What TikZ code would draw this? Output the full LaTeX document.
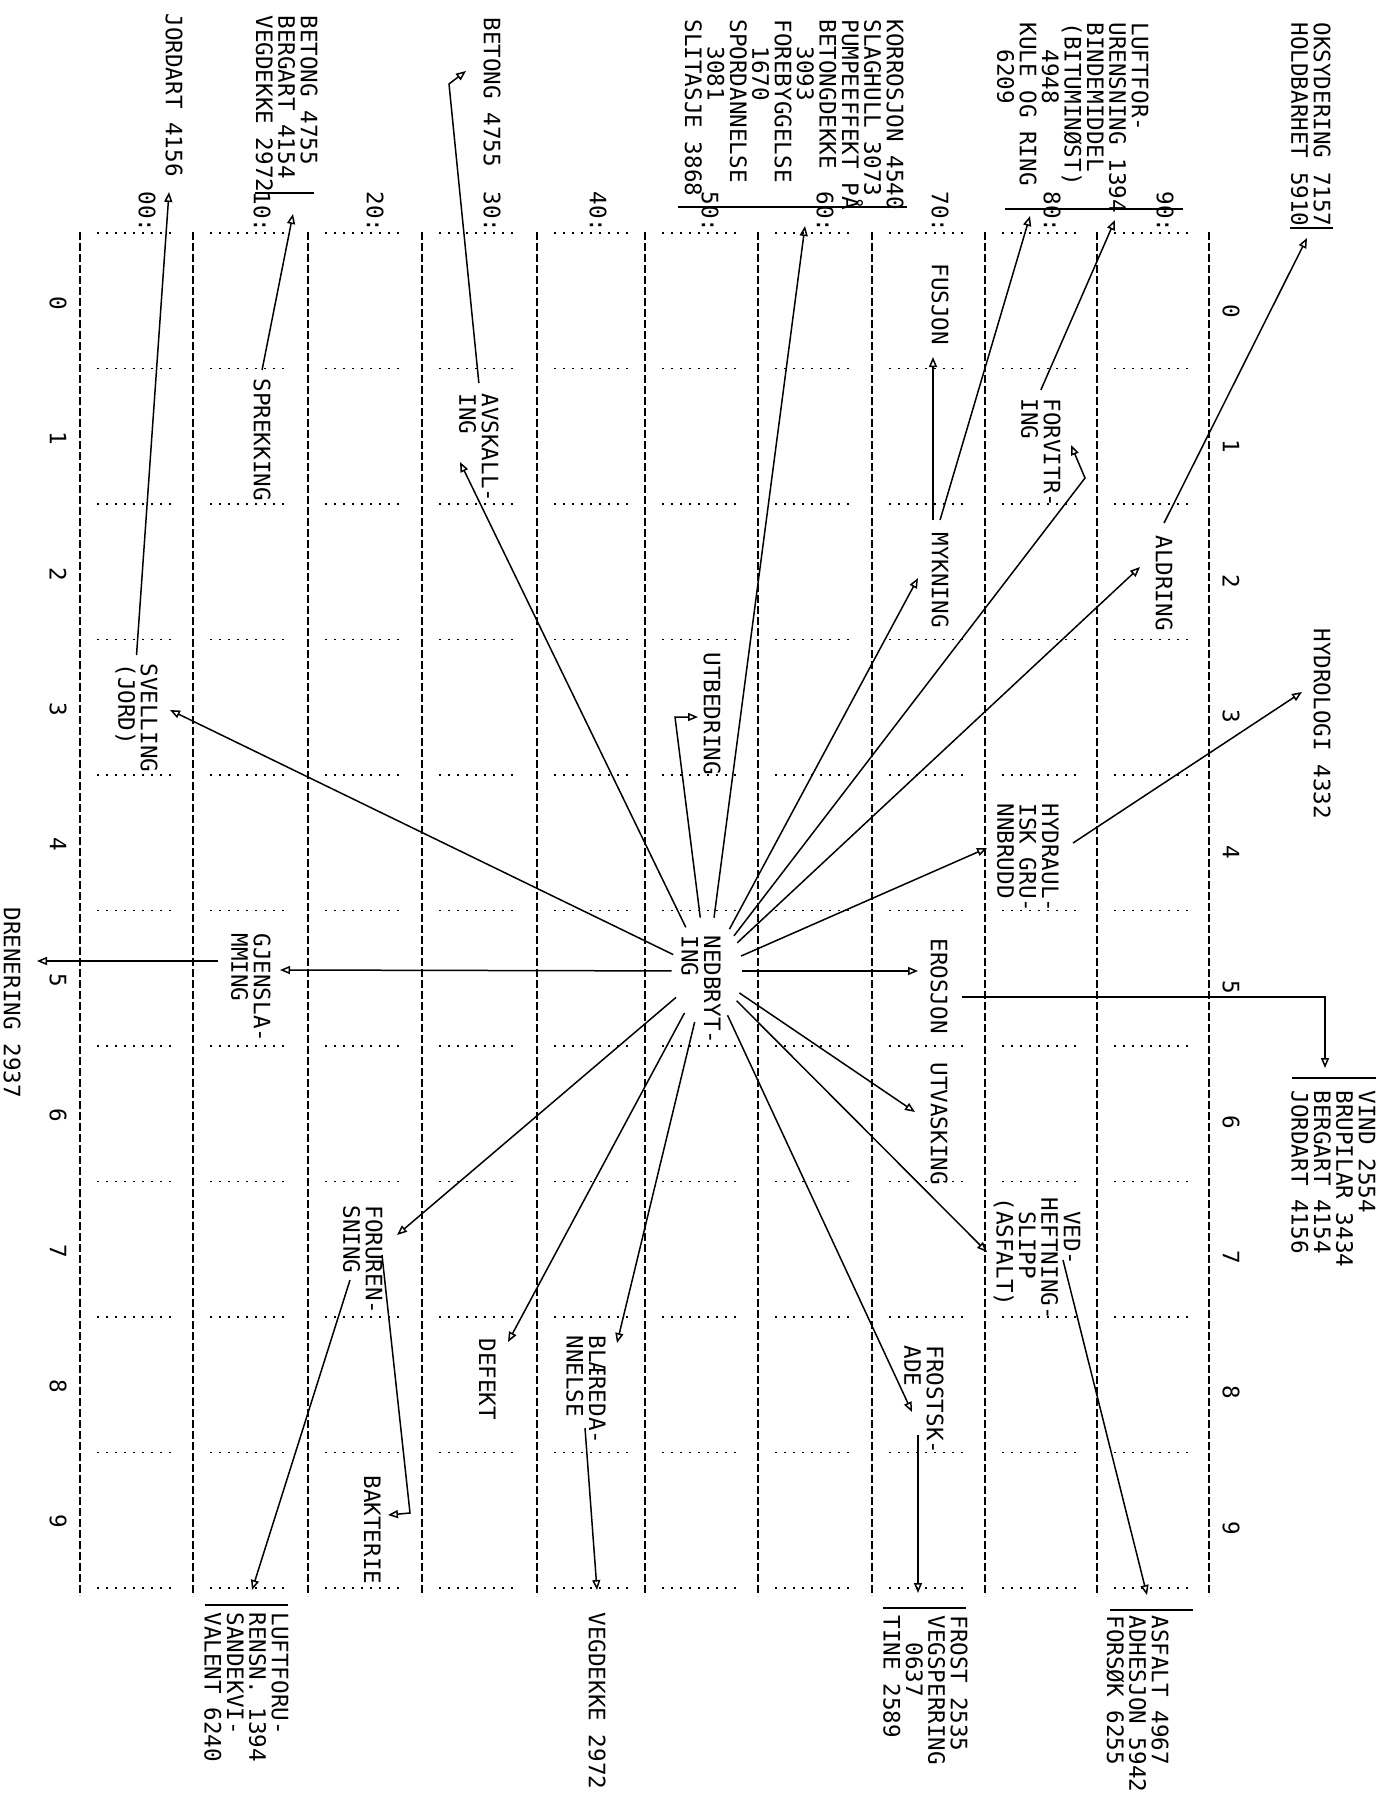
\documentclass[tikz,border=0pt]{standalone}
\usepackage{fontspec}
\usepackage{tikz}
\usetikzlibrary{arrows.meta,shapes.geometric}
\newfontfamily\plotfont{DejaVu Sans Mono}
\newcommand{\plotfnt}{\plotfont\fontsize{11.3}{11.2}\selectfont}

\begin{document}
\begin{tikzpicture}[x=0.5pt, y=-0.5pt,
  every node/.style={font=\plotfnt},
  lbl/.style={rotate=-90, anchor=north west, align=left, inner sep=0pt},
  arr/.style={-{Triangle[open,length=5pt,width=4pt]}, line width=0.75pt},
  brk/.style={line width=0.9pt},
  gridln/.style={line width=0.7pt, dash pattern=on 4pt off 1.5pt},
  dotln/.style={line width=0.9pt, dash pattern=on 0.9pt off 3.6pt},
  hub/.style={ellipse, minimum width=35pt, minimum height=54pt, inner sep=0pt}]
\useasboundingbox (0,0) rectangle (1380,1794);

% grid
\foreach \x in {80,193,308,422,537,645,758,872,985,1097,1209}
  \draw[gridln] (\x,232) -- (\x,1596);
\foreach \k in {0,...,10}
  \foreach \x in {80,193,308,422,537,645,758,872,985,1097}
    \draw[dotln] (\x+17,233+135.5*\k) -- (\x+96,233+135.5*\k);
\foreach \x/\lab in {147/00,262/10,375/20,492/30,598/40,710/50,825/60,940/70,1052/80,1165/90}
  \node[lbl, anchor=east] (row\lab) at (\x,233) {\lab:};
\foreach \c in {0,...,9} {
  \node[rotate=-90, inner sep=0pt] (lc\c) at (58,303+135.4*\c) {\c};
  \node[rotate=-90, inner sep=0pt] (rc\c) at (1231,311+135.2*\c) {\c};
}

\node[lbl] (oksy) at (1331,22) {OKSYDERING 7157\\HOLDBARHET 5910};
\node[lbl] (luft) at (1149,22) {LUFTFOR-\\URENSNING 1394\\BINDEMIDDEL\\(BITUMINØST)\\\phantom{00}4948\\KULE OG RING\\\phantom{00}6209};
\node[lbl] (korr) at (904,19) {KORROSJON 4540\\SLAGHULL 3073\\PUMPEEFFEKT PÅ\\BETONGDEKKE\\\phantom{00}3093\\FOREBYGGELSE\\\phantom{00}1670\\SPORDANNELSE\\\phantom{00}3081\\SLITASJE 3868};
\node[lbl] (bet) at (501,17) {BETONG 4755};
\node[lbl] (berg) at (318,15) {BETONG 4755\\BERGART 4154\\VEGDEKKE 2972};
\node[lbl] (jord) at (183,13) {JORDART 4156};
\node[lbl] (hydro) at (1331,628) {HYDROLOGI 4332};
\node[lbl] (dren) at (21,907) {DRENERING 2937};
\node[lbl] (vind) at (1376,1090) {VIND 2554\\BRUPILAR 3434\\BERGART 4154\\JORDART 4156};
\node[lbl] (frost) at (968,1615) {FROST 2535\\VEGSPERRING\\\phantom{00}0637\\TINE 2589};
\node[lbl] (asf) at (1169,1615) {ASFALT 4967\\ADHESJON 5942\\FORSØK 6255};
\node[lbl] (vegd) at (606,1612) {VEGDEKKE 2972};
\node[lbl] (lfor) at (289,1612) {LUFTFORU-\\RENSN. 1394\\SANDEKVI-\\VALENT 6240};

\draw[brk] (1290,228) -- (1333,228);
\draw[brk] (1005,209) -- (1183,209);
\draw[brk] (678,207) -- (907,207);
\draw[brk] (255,193) -- (314,193);
\draw[brk] (1292,1078) -- (1376,1078);
\draw[brk] (883,1608) -- (966,1608);
\draw[brk] (1110,1610) -- (1193,1610);
\draw[brk] (205,1605) -- (288,1605);

\node[lbl] (fusj) at (949,263) {FUSJON};
\node[lbl] (myk) at (949,532) {MYKNING};
\node[lbl] (eros) at (948,938) {EROSJON};
\node[lbl] (utva) at (948,1062) {UTVASKING};
\node[lbl] (forv) at (1061,398) {FORVITR-\\ING};
\node[lbl] (aldr) at (1173,535) {ALDRING};
\node[lbl] (hydr) at (1059,803) {HYDRAUL-\\ISK GRU-\\NNBRUDD};
\node[lbl] (vedh) at (1081,1197) {\phantom{0}VED-\\HEFTNING-\\\phantom{0}SLIPP\\(ASFALT)};
\node[lbl] (frsk) at (944,1345) {FROSTSK-\\ADE};
\node[lbl] (blae) at (606,1335) {BLÆREDA-\\NNELSE};
\node[lbl] (defe) at (496,1338) {DEFEKT};
\node[lbl] (foru) at (383,1205) {FORUREN-\\SNING};
\node[lbl] (bakt) at (381,1475) {BAKTERIE};
\node[lbl] (gjen) at (271,933) {GJENSLA-\\MMING};
\node[lbl] (spre) at (271,378) {SPREKKING};
\node[lbl] (svel) at (158,663) {SVELLING\\(JORD)};
\node[lbl] (avsk) at (499,393) {AVSKALL-\\ING};
\node[lbl] (utbe) at (721,652) {UTBEDRING};
\node[lbl] (nedb) at (721,935) {NEDBRYT-\\ING};
\node[hub] (ned) at (707,971) {};

\coordinate (utbe-in) at (698,717);
\coordinate (forv-in) at (1071,445);
\coordinate (gjen-out) at (218,961);
\coordinate (foru-out) at (350,1280);
\coordinate (foru-out2) at (382,1255);
\coordinate (blae-out) at (585,1428);
\coordinate (frsk-out) at (918,1435);
\coordinate (vedh-out) at (1063,1260);
\coordinate (eros-out) at (962,997);
\coordinate (hydr-out) at (1073,843);
\coordinate (myk-out) at (933,520);

\foreach \t in {(170,710),(460,462),(805,226),(918,578),(1140,567),(987,848),
    (918,971),(915,1112),(987,1252),(912,1412),(617,1343),(508,1342),(397,1235),(280,970)}
  \draw[arr] (ned) -- \t;
\draw[arr] (ned) -- (675,717) -- (utbe-in);
\draw[arr] (ned) -- (1085,478) -- (forv-in);

\draw[arr] ([yshift=4pt]spre.west) -- (293,214);
\draw[arr] ([yshift=5pt]avsk.west) -- (449,84) -- (466,71);
\draw[arr] ([yshift=4pt]svel.west) -- (169,192);
\draw[arr] (gjen-out) -- (37,961);
\draw[arr] (foru-out) -- (252,1590);
\draw[arr] (foru-out2) -- (410,1513) -- (388,1515);
\draw[arr] (blae-out) -- (597,1590);
\draw[arr] (frsk-out) -- (918,1593);
\draw[arr] (vedh-out) -- (1147,1595);
\draw[arr] (eros-out) -- (1325,997) -- (1325,1068);
\draw[arr] (hydr-out) -- (1302,692);
\draw[arr] ([yshift=6pt]aldr.west) -- (1307,238);
\draw[arr] ([yshift=4pt]forv.west) -- (1115,220);
\draw[arr] ([yshift=6pt]myk.west) -- (1030,216);
\draw[arr] (myk-out) -- (933,357);
\end{tikzpicture}
\end{document}
